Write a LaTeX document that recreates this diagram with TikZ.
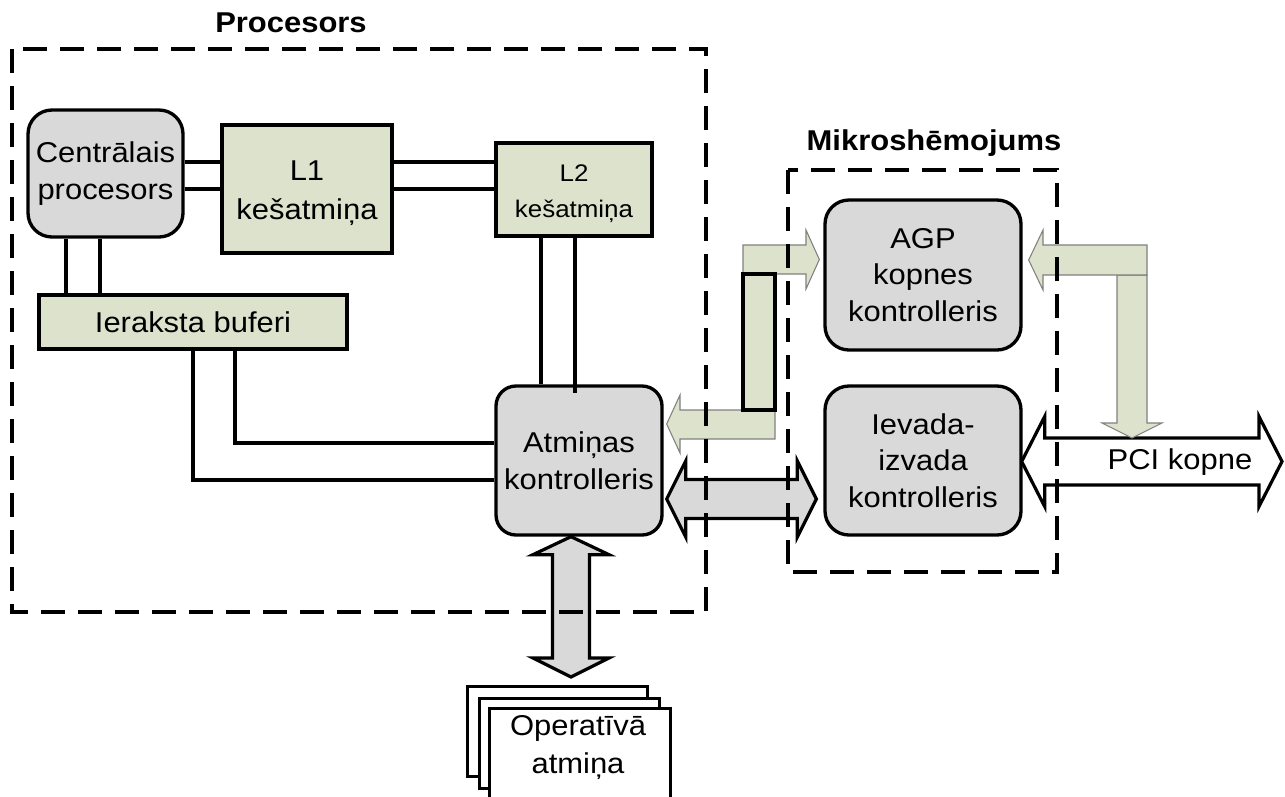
\documentclass[tikz,border=0pt]{standalone}
\usepackage{fontspec}
\setmainfont[FakeStretch=1.08]{Liberation Sans}
\usetikzlibrary{calc}
\definecolor{boxgray}{RGB}{217,217,217}
\definecolor{cachegreen}{RGB}{221,226,205}
\definecolor{arrowedge}{RGB}{128,128,128}

\begin{document}
\begin{tikzpicture}[x=0.75pt,y=-0.75pt,
  font=\fontsize{21.5}{27.5}\selectfont,
  unit/.style={draw, line width=2.5pt, fill=boxgray, rounded corners=18pt,
    inner sep=0pt, align=center},
  cache/.style={draw, line width=2.5pt, fill=cachegreen, inner sep=0pt, align=center},
  bus/.style={line width=2.4pt},
  region/.style={line width=2.4pt, dash pattern=on 18pt off 9.75pt},
  title/.style={font=\fontsize{21.5}{26}\selectfont\bfseries},
  widearrow/.style={draw, line width=2.4pt, line join=miter, miter limit=10},
  flowarrow/.style={draw=arrowedge, line width=0.8pt, fill=cachegreen},
  page/.style={draw, line width=2.2pt, fill=white, inner sep=0pt,
    minimum width=135pt, minimum height=67.5pt, anchor=north west}
]
\useasboundingbox (0,0) rectangle (1285,796);

% ---------- units ----------
\node[unit, minimum width=116.25pt, minimum height=95.25pt] (cpu) at (105.5,173.5) {Centrālais\\procesors};
\node[cache, minimum width=127.5pt, minimum height=96pt,
      font=\fontsize{21.5}{29.5}\selectfont] (l1) at (307,189) {\rule{0pt}{21.5pt}L1\\kešatmiņa};
\node[cache, minimum width=117pt, minimum height=69.75pt,
      font=\fontsize{18}{27.5}\selectfont] (l2) at (574,189.5) {\rule{0pt}{19pt}L2\\kešatmiņa};
\node[cache, minimum width=231pt, minimum height=40.5pt] (wb) at (193,322) {Ieraksta buferi};
\node[unit, rounded corners=15pt, minimum width=124.5pt, minimum height=111.75pt] (mc) at (579,460.5) {Atmiņas\\kontrolleris};
\node[unit, minimum width=147pt, minimum height=112.5pt] (agp) at (923,275) {AGP\\kopnes\\kontrolleris};
\node[unit, minimum width=147pt, minimum height=111.75pt] (io) at (923,460.5) {Ievada-\\izvada\\kontrolleris};

% ---------- main memory modules ----------
\node[page] (ram3) at (466,685) {};
\node[page] (ram2) at (478,697) {};
\node[page, minimum width=135.75pt, minimum height=90pt] (ram) at (488,707) {};
\node[align=center, font=\fontsize{21.5}{28.5}\selectfont] (ramtext) at (578,748) {Operatīvā\\atmiņa};

% ---------- titles ----------
\node[title] (proctitle) at (291,23) {Procesors};
\node[title] (chiptitle) at (934,143) {Mikroshēmojums};

% ---------- bus lines ----------
\coordinate (rowA) at (0,162);
\coordinate (rowB) at (0,189);
\coordinate (colA) at (66,0);
\coordinate (colB) at (100,0);
\coordinate (colC) at (541,0);
\coordinate (colD) at (575,0);
\coordinate (colE) at (235,0);
\coordinate (colF) at (193,0);
\coordinate (rowC) at (0,443);
\coordinate (rowD) at (0,480);

\draw[bus] (cpu.east |- rowA) -- (l1.west |- rowA);
\draw[bus] (cpu.east |- rowB) -- (l1.west |- rowB);
\draw[bus] (l1.east |- rowA) -- (l2.west |- rowA);
\draw[bus] (l1.east |- rowB) -- (l2.west |- rowB);
\draw[bus] (cpu.south -| colA) -- (wb.north -| colA);
\draw[bus] (cpu.south -| colB) -- (wb.north -| colB);
\draw[bus] (l2.south -| colC) -- (mc.north -| colC);
\draw[bus] (l2.south -| colD) -- ($(mc.north -| colD)+(0,9)$);
\draw[bus] (wb.south -| colE) |- (mc.west |- rowC);
\draw[bus] (wb.south -| colF) |- (mc.west |- rowD);

% ---------- wide arrows ----------
% memory controller <-> main memory
\coordinate (vtop) at ($(mc.south)+(-8,0)$);
\coordinate (vbot) at ($(vtop |- ram3.north)+(0,-8)$);
\path[widearrow, fill=boxgray] (vtop) -- ++(38,18) -- ++(-19.5,0)
  -- ($(vbot)+(18.5,-19)$) -- ++(19.5,0) -- (vbot) -- ++(-38,-19) -- ++(19.5,0)
  -- ($(vtop)+(-18.5,18)$) -- ++(-19.5,0) -- cycle;

% memory controller <-> I/O controller
\coordinate (rowE) at (0,499);
\coordinate (hl) at ($(mc.east |- rowE)+(3,0)$);
\coordinate (hr) at ($(io.west |- rowE)+(-7,0)$);
\path[widearrow, fill=boxgray] (hl) -- ++(19,-38) -- ++(0,18.5)
  -- ($(hr)+(-19,-19.5)$) -- ++(0,-18.5) -- (hr) -- ++(-19,38) -- ++(0,-18.5)
  -- ($(hl)+(19,19.5)$) -- ++(0,18.5) -- cycle;

% PCI bus
\coordinate (rowF) at (0,461.5);
\coordinate (pl) at ($(io.east |- rowF)+(-1,0)$);
\coordinate (pr) at (1282,461.5);
\path[widearrow, fill=white] (pl) -- ++(23,-45) -- ++(0,21.5)
  -- ($(pr)+(-23,-23.5)$) -- ++(0,-21.5) -- (pr) -- ++(-23,45) -- ++(0,-21.5)
  -- ($(pl)+(23,23.5)$) -- ++(0,21.5) -- cycle;
\node (pcilabel) at (1180,462) {PCI kopne};

% PCI bus -> AGP controller
\coordinate (pcitap) at (1132,438);
\coordinate (agpin) at ($(agp.east)+(6,-15)$);
\path[flowarrow] (1117,275) -- (1147,275) -- (1147,423) -- (1162,423)
  -- (pcitap) -- (1102,423) -- (1117,423) -- cycle;
\path[flowarrow] (1147,245) -- (1147,275) -- (1043,275) -- (1043,290)
  -- (agpin) -- (1043,230) -- (1043,245) -- cycle;

% memory controller <-> AGP controller
\coordinate (agpport) at ($(agp.west)+(-4,-15.5)$);
\coordinate (mcport) at ($(mc.east)+(3,-36.5)$);
\path[flowarrow] (743,245) -- (806,245) -- (806,230) -- (agpport)
  -- (806,289) -- (806,274) -- (743,274) -- cycle;
\path[flowarrow] (775,410) -- (775,439) -- (680,439) -- (680,453)
  -- (mcport) -- (680,395) -- (680,410) -- cycle;
\draw[line width=2.4pt, fill=cachegreen] (743,274) rectangle (775,410);

% ---------- regions ----------
\draw[region] (12,49) rectangle (706,612);
\draw[region] (788,170) rectangle (1057,572);
\end{tikzpicture}
\end{document}
